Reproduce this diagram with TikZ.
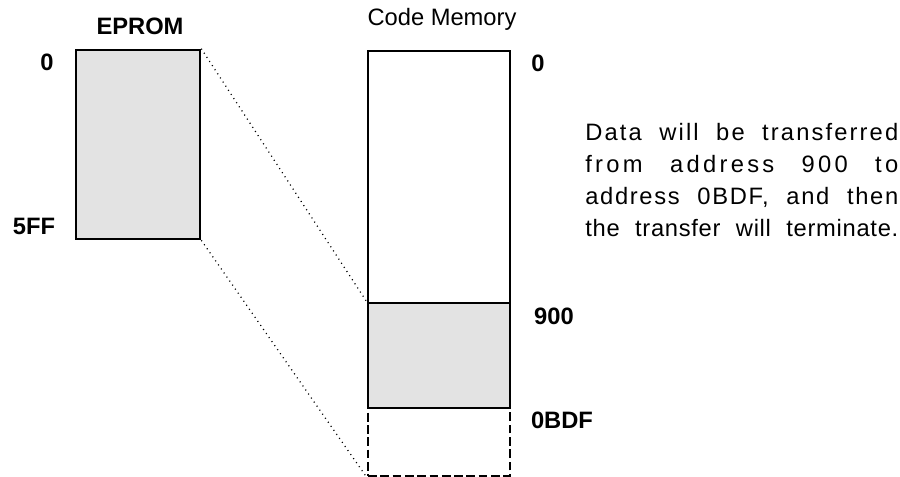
\documentclass[tikz,border=0pt]{standalone}
\usepackage{fontspec}
\setmainfont{Liberation Sans}
\usepackage{tikz}
\usetikzlibrary{positioning}
\definecolor{memgray}{RGB}{227,227,227}
\newcommand{\noteline}[2]{\makebox[6.26cm][l]{\addfontfeature{LetterSpace=#1}#2}}
\tikzset{
  membox/.style={draw, line width=1.5pt, inner sep=0pt, minimum width=2.84cm},
  addr/.style={font=\fontsize{13.5}{16}\selectfont\bfseries},
  ttl/.style={font=\fontsize{13.5}{16}\selectfont},
  mapline/.style={line width=0.7pt, dash pattern=on 0.6pt off 2.2pt, black}
}
\begin{document}
\begin{tikzpicture}[x=0.02cm, y=0.02cm]
  \useasboundingbox (0,0) rectangle (900,477);
  % EPROM
  \node[membox, fill=memgray, minimum width=2.48cm, minimum height=3.78cm] (eprom) at (138,332.5) {};
  \node[addr] (epromlbl) at (140,451) {EPROM};
  \node[addr] (ezero) at (47,415) {0};
  \node[addr] (eend) at (34,251) {5FF};
  % Code Memory
  \node[membox, fill=white, minimum height=5.04cm] (codetop) at (439,300) {};
  \node[membox, fill=memgray, minimum height=2.1cm] (codeblk) at (439,121.5) {};
  \node[membox, dash pattern=on 5pt off 2pt, minimum height=1.36cm] (codefree) at (439,35) {};
  \node[ttl] (codelbl) at (442,458) {Code Memory};
  \node[addr] (czero) at (538,414) {0};
  \node[addr] (cstart) at (554,161) {900};
  \node[addr] (cend) at (562,57) {0BDF};
  % Mapping
  \draw[mapline] (eprom.north east) -- (codeblk.north west);
  \draw[mapline] (eprom.south east) -- (codefree.south west);
  % Note
  \node[anchor=west, inner sep=0pt, text width=6.26cm, align=left,
        font=\fontsize{13.5}{16.5}\selectfont] (note) at (585,297)
    {\noteline{9}{Data\hfill will\hfill be\hfill transferred}\\[1.8pt]
     \noteline{14}{from\hfill address\hfill 900\hfill to}\\[1.8pt]
     \noteline{7}{address\hfill 0BDF,\hfill and\hfill then}\\[1.8pt]
     \noteline{3}{the\hfill transfer\hfill will\hfill terminate.}};
\end{tikzpicture}
\end{document}
